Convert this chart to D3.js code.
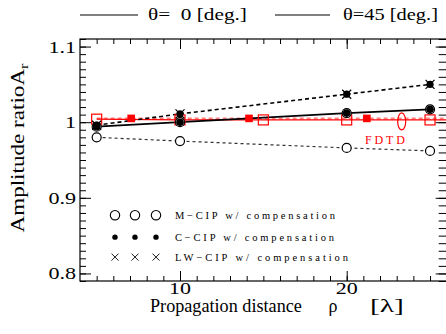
<!DOCTYPE html>
<html>
<head>
<meta charset="utf-8">
<script src="https://cdn.jsdelivr.net/npm/d3@7"></script>
<style>
  body { margin: 0; background: #fff; }
  text { font-family: "Liberation Serif", "DejaVu Serif", serif; white-space: pre; }
</style>
</head>
<body>
<div id="chart"></div>
<script>
// propagation distance (lambda)
const cipX = [5, 10, 20, 25];
// theta = 0, solid line (M-CIP / C-CIP overlapping)
const theta0 = [0.994, 1.000, 1.012, 1.017];
// theta = 45, dashed line (C-CIP / LW-CIP overlapping)
const theta45 = [0.996, 1.011, 1.037, 1.050];
// M-CIP lower dashed line
const mcip = [0.980, 0.975, 0.966, 0.962];

// FDTD reference
const fdtdX0 = [5, 10, 15, 20, 25];
const fdtd0 = [1.004, 1.003, 1.003, 1.003, 1.003];
const fdtdX45 = [7.07, 14.14, 21.21];
const fdtd45 = [1.005, 1.005, 1.005];
const fdtdEllipse = [[23.3, 1.001]];

const yTicks = [0.8, 0.9, 1, 1.1];
const xTicks = [10, 20];

const W = 446, H = 334;
const margin = { left: 80, top: 39, right: -0.7, bottom: 53 };

const svg = d3.select('#chart').append('svg')
  .attr('width', W).attr('height', H);

const x = d3.scaleLinear().domain([4, 26]).range([margin.left, W - margin.right]);
const y = d3.scaleLinear().domain([0.79, 1.11]).range([H - margin.bottom, margin.top]);

// stretch a text horizontally (in its own frame) to a given width, about its x anchor
function stretch(sel, w) {
  sel.each(function () {
    const n = this;
    const bw = n.getBBox().width;
    const k = w / bw;
    const ax = +n.getAttribute('x') || 0;
    const prev = n.getAttribute('transform') || '';
    n.setAttribute('transform', `${prev} translate(${ax * (1 - k)},0) scale(${k},1)`);
  });
}

svg.append('clipPath').attr('id', 'clip')
  .append('rect')
  .attr('x', x(4)).attr('y', y(1.11))
  .attr('width', x(26) - x(4)).attr('height', y(0.79) - y(1.11));

// frame
svg.append('rect')
  .attr('x', x(4)).attr('y', y(1.11))
  .attr('width', x(26) - x(4)).attr('height', y(0.79) - y(1.11))
  .attr('fill', 'none').attr('stroke', '#000').attr('stroke-width', 1.2);

// axes with ticks pointing inward
const minorX = d3.range(5, 26, 1);
const minorY = d3.range(79, 112, 1).map(d => d / 100);

function tickGroup(g) {
  g.selectAll('.domain').remove();
  g.selectAll('line').attr('stroke', '#000').attr('stroke-width', 1);
}

// bottom
svg.append('g').attr('transform', `translate(0,${y(0.79)})`)
  .call(d3.axisTop(x).tickValues(minorX).tickSize(5).tickFormat(''))
  .call(tickGroup);
svg.append('g').attr('transform', `translate(0,${y(0.79)})`)
  .call(d3.axisTop(x).tickValues(xTicks).tickSize(10).tickFormat(''))
  .call(tickGroup);
// top
svg.append('g').attr('transform', `translate(0,${y(1.11)})`)
  .call(d3.axisBottom(x).tickValues(minorX).tickSize(5).tickFormat(''))
  .call(tickGroup);
svg.append('g').attr('transform', `translate(0,${y(1.11)})`)
  .call(d3.axisBottom(x).tickValues(xTicks).tickSize(10).tickFormat(''))
  .call(tickGroup);
// left
svg.append('g').attr('transform', `translate(${x(4)},0)`)
  .call(d3.axisRight(y).tickValues(minorY).tickSize(6).tickFormat(''))
  .call(tickGroup);
svg.append('g').attr('transform', `translate(${x(4)},0)`)
  .call(d3.axisRight(y).tickValues(yTicks).tickSize(11).tickFormat(''))
  .call(tickGroup);
// right
svg.append('g').attr('transform', `translate(${x(26)},0)`)
  .call(d3.axisLeft(y).tickValues(minorY).tickSize(8).tickFormat(''))
  .call(tickGroup);
svg.append('g').attr('transform', `translate(${x(26)},0)`)
  .call(d3.axisLeft(y).tickValues(yTicks).tickSize(11).tickFormat(''))
  .call(tickGroup);

// tick labels
svg.append('g').selectAll('text').data(yTicks).join('text')
  .attr('x', x(4) - 4).attr('y', d => y(d) + 6)
  .attr('text-anchor', 'end').attr('font-size', 16)
  .text(d => d3.format('~g')(d))
  .each(function () { stretch(d3.select(this), this.getBBox().width * 1.38); });
svg.append('g').selectAll('text').data(xTicks).join('text')
  .attr('x', d => x(d)).attr('y', 294)
  .attr('text-anchor', 'middle').attr('font-size', 16)
  .text(d => d)
  .call(stretch, 22);

// axis titles
svg.append('text')
  .attr('x', 150).attr('y', 312).attr('font-size', 18)
  .text('Propagation distance')
  .call(stretch, 152);
svg.append('text')
  .attr('x', 333).attr('y', 312).attr('text-anchor', 'middle').attr('font-size', 18)
  .text('\u03c1');
svg.append('text')
  .attr('x', 370).attr('y', 312).attr('font-size', 18)
  .text('[\u03bb]')
  .call(stretch, 34);

const ytg = svg.append('g').attr('transform', 'translate(24,148) rotate(-90)');
const yt = ytg.append('text')
  .attr('x', 0).attr('y', 0)
  .attr('text-anchor', 'middle').attr('font-size', 18.5);
yt.append('tspan').text('Amplitude ratioA');
yt.append('tspan').attr('font-size', 13).attr('dy', 4).text('r');
yt.call(stretch, 170);

// top legend
const legendTop = [
  { x1: 80, x2: 138, tx: 148, w: 99, label: '\u03b8=  0 [deg.]' },
  { x1: 275, x2: 330, tx: 343, w: 95, label: '\u03b8=45 [deg.]' }
];
const lt = svg.append('g');
lt.selectAll('line').data(legendTop).join('line')
  .attr('x1', d => d.x1).attr('x2', d => d.x2)
  .attr('y1', 15).attr('y2', 15)
  .attr('stroke', '#000').attr('stroke-width', 1);
lt.selectAll('text').data(legendTop).join('text')
  .attr('x', d => d.tx).attr('y', 20).attr('font-size', 16)
  .text(d => d.label)
  .each(function (d) { stretch(d3.select(this), d.w); });

// plot marks
const plot = svg.append('g').attr('clip-path', 'url(#clip)');
const line = d3.line().x(d => x(d[0])).y(d => y(d[1]));
const zip = (xs, ys) => xs.map((v, i) => [v, ys[i]]);

// FDTD lines
plot.append('path').datum([[fdtdX0[0], fdtd45[0]], ...zip(fdtdX45, fdtd45), [26, fdtd45[0]]])
  .attr('d', line).attr('fill', 'none')
  .attr('stroke', '#ff8080').attr('stroke-width', 2).attr('stroke-dasharray', '4,3');
plot.append('path').datum([...zip(fdtdX0, fdtd0), [26, fdtd0[fdtd0.length - 1]]])
  .attr('d', line).attr('fill', 'none')
  .attr('stroke', '#ff0000').attr('stroke-width', 1.3);

// CIP lines
plot.append('path').datum(zip(cipX, mcip))
  .attr('d', line).attr('fill', 'none')
  .attr('stroke', '#333').attr('stroke-width', 1.2).attr('stroke-dasharray', '3,3');
plot.append('path').datum(zip(cipX, theta45))
  .attr('d', line).attr('fill', 'none')
  .attr('stroke', '#000').attr('stroke-width', 1.6).attr('stroke-dasharray', '4,3');
plot.append('path').datum(zip(cipX, theta0))
  .attr('d', line).attr('fill', 'none')
  .attr('stroke', '#000').attr('stroke-width', 1.8);

// FDTD markers
plot.append('g').selectAll('rect').data(zip(fdtdX0, fdtd0)).join('rect')
  .attr('x', d => x(d[0]) - 5).attr('y', d => y(d[1]) - 5)
  .attr('width', 10).attr('height', 10)
  .attr('fill', 'none').attr('stroke', '#ff0000').attr('stroke-width', 1.2);
plot.append('g').selectAll('rect').data(zip(fdtdX45, fdtd45)).join('rect')
  .attr('x', d => x(d[0]) - 3.8).attr('y', d => y(d[1]) - 3.8)
  .attr('width', 7.6).attr('height', 7.6)
  .attr('fill', '#ff0000');
plot.append('g').selectAll('ellipse').data(fdtdEllipse).join('ellipse')
  .attr('cx', d => x(d[0])).attr('cy', d => y(d[1]))
  .attr('rx', 4).attr('ry', 8.5)
  .attr('fill', 'none').attr('stroke', '#ff0000').attr('stroke-width', 1.2);

svg.append('text')
  .attr('x', 365).attr('y', 144)
  .attr('font-size', 12).attr('fill', '#ff0000')
  .attr('textLength', 40).attr('lengthAdjust', 'spacing')
  .text('FDTD');

// CIP markers
function openCircles(data) {
  plot.append('g').selectAll('circle').data(data).join('circle')
    .attr('cx', d => x(d[0])).attr('cy', d => y(d[1])).attr('r', 4.5)
    .attr('fill', '#fff').attr('stroke', '#000').attr('stroke-width', 1.2);
}
function dots(data, r) {
  plot.append('g').selectAll('circle').data(data).join('circle')
    .attr('cx', d => x(d[0])).attr('cy', d => y(d[1])).attr('r', r)
    .attr('fill', '#000');
}
function crosses(data, s) {
  plot.append('g').selectAll('path').data(data).join('path')
    .attr('d', d => {
      const cx = x(d[0]), cy = y(d[1]);
      return `M${cx - s},${cy - s}L${cx + s},${cy + s}M${cx - s},${cy + s}L${cx + s},${cy - s}`;
    })
    .attr('stroke', '#000').attr('stroke-width', 1.2).attr('fill', 'none');
}

openCircles(zip(cipX, mcip));
openCircles(zip(cipX, theta0));
dots(zip(cipX, theta0), 3.8);
crosses(zip(cipX, theta45), 4.5);
dots(zip(cipX, theta45), 3.6);

// legend inside plot
const legendRows = [
  { label: 'M\u2212CIP w/ compensation', kind: 'open', yv: 0.877, w: 160 },
  { label: 'C\u2212CIP w/ compensation', kind: 'dot', yv: 0.848, w: 159 },
  { label: 'LW\u2212CIP w/ compensation', kind: 'cross', yv: 0.8216, w: 173 }
];
const symX = [115, 135, 156];
const lg = svg.append('g');
legendRows.forEach(r => {
  const cy = y(r.yv);
  symX.forEach(sx => {
    if (r.kind === 'open') {
      lg.append('circle').attr('cx', sx).attr('cy', cy).attr('r', 4.7)
        .attr('fill', 'none').attr('stroke', '#000').attr('stroke-width', 1.1);
    } else if (r.kind === 'dot') {
      lg.append('circle').attr('cx', sx).attr('cy', cy).attr('r', 2.7).attr('fill', '#000');
    } else {
      lg.append('path')
        .attr('d', `M${sx - 3.5},${cy - 3.5}L${sx + 3.5},${cy + 3.5}M${sx - 3.5},${cy + 3.5}L${sx + 3.5},${cy - 3.5}`)
        .attr('stroke', '#000').attr('stroke-width', 0.9);
    }
  });
  lg.append('text').attr('x', 175).attr('y', cy + 3.5)
    .attr('font-size', 10.5)
    .attr('textLength', r.w).attr('lengthAdjust', 'spacing')
    .text(r.label);
});
</script>
</body>
</html>
